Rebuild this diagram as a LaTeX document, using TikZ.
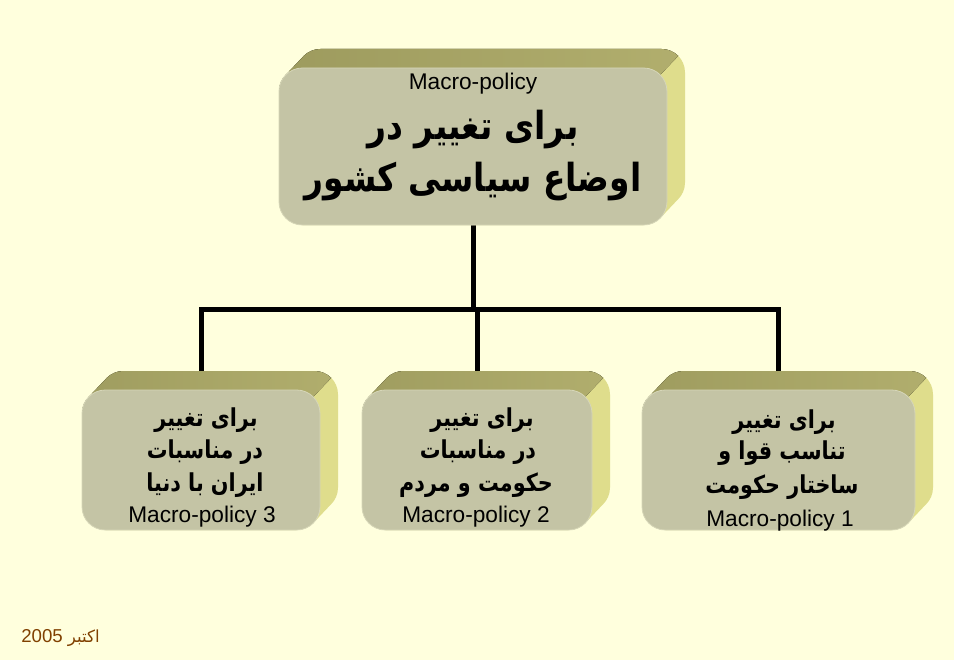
\documentclass[tikz,border=0pt]{standalone}
\usepackage{fontspec}
\setmainfont{Liberation Sans}
\newfontfamily\arabicfont[Script=Arabic]{DejaVu Sans}
\newfontfamily\arabicbig[Script=Arabic, FakeStretch=0.85]{DejaVu Sans}
\newfontfamily\arabicsmall[Script=Arabic, FakeStretch=0.84]{DejaVu Sans}
\TeXXeTstate=1
\usetikzlibrary{calc}
\pgfdeclarelayer{bglayer}
\pgfdeclarelayer{linelayer}
\pgfsetlayers{bglayer,linelayer,main}
\definecolor{bgcol}{RGB}{255,255,221}
\definecolor{frontcol}{RGB}{196,196,165}
\definecolor{frontedge}{RGB}{214,214,184}
\definecolor{topdark}{RGB}{152,150,90}
\definecolor{toplight}{RGB}{178,175,110}
\definecolor{sidecol}{RGB}{223,221,140}
\definecolor{datecol}{RGB}{128,64,0}
\tikzset{
  frontface/.style={draw=frontedge, line width=0.6pt, fill=frontcol, rounded corners=17.5pt, inner sep=0pt},
  conn/.style={line width=3.75pt, draw=black},
  lat/.style={font=\fontsize{17}{20}\selectfont, inner sep=0pt},
  arbig/.style={font=\arabicbig\bfseries\fontsize{29}{34}\selectfont, inner sep=0pt},
  arsmall/.style={font=\arabicsmall\bfseries\fontsize{18.5}{22}\selectfont, inner sep=0pt},
  datetxt/.style={font=\fontsize{14}{17}\selectfont, text=datecol, inner sep=0pt},
}
% #1 name, #2 x1, #3 y1, #4 x2, #5 y2 (front face, pixel coordinates, y down)
\newcommand\extrudedbox[5]{%
  \begin{scope}
    \clip[rounded corners=17.5pt] \foreach \i in {0,...,24} {({#2+18*\i/24},{#3-19*\i/24}) rectangle ({#4+18*\i/24},{#5-19*\i/24})};
    \fill[sidecol] ({#2-40},{#3-60}) rectangle ({#4+60},{#5+20});
    \fill[left color=topdark, right color=toplight]
      ({#4-6.8-40},{#3+6.8+42}) -- ({#4-6.8+40},{#3+6.8-42}) -- ({#4-6.8+40},{#3-100})
      -- ({#2-100},{#3-100}) -- ({#2-100},{#3+6.8+42}) -- cycle;
  \end{scope}
  \node[frontface, minimum width={(#4-#2)*0.75pt}, minimum height={(#5-#3)*0.75pt}] (#1) at ({(#2+#4)/2},{(#3+#5)/2}) {};
}
\begin{document}
\begin{tikzpicture}[x=0.75pt,y=-0.75pt]
\begin{pgfonlayer}{bglayer}
  \fill[bgcol] (0,0) rectangle (954,660);
\end{pgfonlayer}
\useasboundingbox (0,0) rectangle (954,660);

\extrudedbox{top}{279}{68}{667}{225}
\extrudedbox{left}{82}{390}{320}{530}
\extrudedbox{mid}{362}{390}{592}{530}
\extrudedbox{right}{642}{390}{915}{530}

% texts
\node[lat] (topl) at (473,84) {Macro-policy};
\node[arbig] (topa) at (473,130) {\beginR برای تغییر در\endR};
\node[arbig] (topb) at (473,182) {\beginR اوضاع سیاسی کشور\endR};

\node[arsmall] (la) at (206,420) {\beginR برای تغییر\endR};
\node[arsmall] (lb) at (205,452) {\beginR در مناسبات\endR};
\node[arsmall] (lc) at (205,485) {\beginR ایران با دنیا\endR};
\node[lat] (ld) at (202,517) {Macro-policy 3};

\node[arsmall] (ma) at (482,420) {\beginR برای تغییر\endR};
\node[arsmall] (mb) at (478,452) {\beginR در مناسبات\endR};
\node[arsmall] (mc) at (476,485) {\beginR حکومت و مردم\endR};
\node[lat] (md) at (476,517) {Macro-policy 2};

\node[arsmall] (ra) at (784,422) {\beginR برای تغییر\endR};
\node[arsmall] (rb) at (782,453) {\beginR تناسب قوا و\endR};
\node[arsmall] (rc) at (782,487) {\beginR ساختار حکومت\endR};
\node[lat] (rd) at (780,521) {Macro-policy 1};

\node[datetxt, anchor=west] (date) at (21,638) {2005 {\arabicfont\fontsize{12.5}{15}\selectfont\beginR اکتبر\endR}};

% connectors
\coordinate (busy) at (0,309);
\begin{pgfonlayer}{linelayer}
  \draw[conn] (top.south) -- (top.south |- busy);
  \draw[conn] (left.north) -- (left.north |- busy) -- (right.north |- busy) -- (right.north);
  \draw[conn] (mid.north) -- (mid.north |- busy);
\end{pgfonlayer}
\end{tikzpicture}
\end{document}
